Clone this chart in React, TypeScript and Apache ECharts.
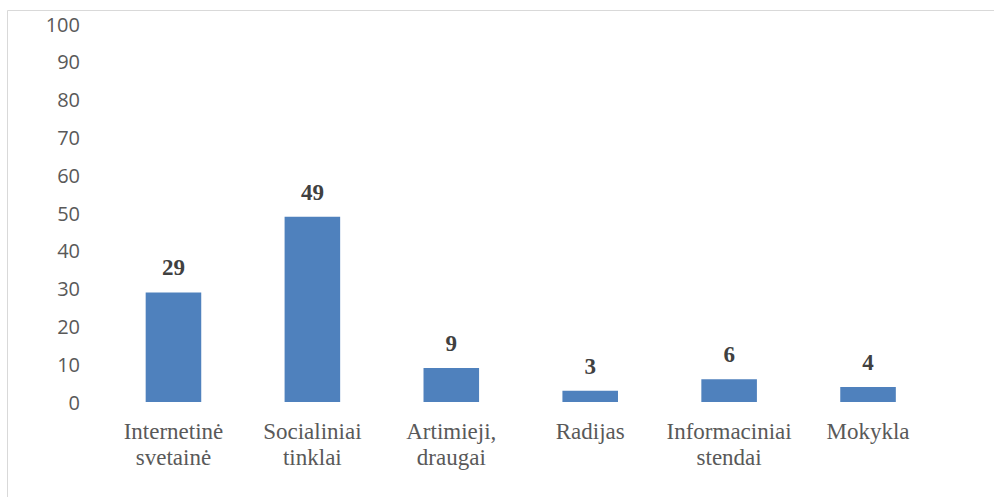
import React, { useEffect, useRef } from "react";
import * as echarts from "echarts";

const categories = ["Internetinė\nsvetainė", "Socialiniai\ntinklai", "Artimieji,\ndraugai", "Radijas", "Informaciniai\nstendai", "Mokykla"];
const values = [29, 49, 9, 3, 6, 4];

export default function App() {
  const ref = useRef<HTMLDivElement>(null);
  useEffect(() => {
    const chart = echarts.init(ref.current!, null, { renderer: "svg" });
    chart.setOption({
      animation: false,
      backgroundColor: "#ffffff",
      graphic: [
        {
          type: "rect",
          shape: { x: 7.5, y: 10.5, width: 1000, height: 500 },
          style: { fill: "none", stroke: "#d9d9d9", lineWidth: 1 },
          silent: true,
        },
      ],
      grid: { left: 104, right: 56.5, top: 24, bottom: 95, containLabel: false },
      xAxis: {
        type: "category",
        data: categories,
        axisLine: { show: false },
        axisTick: { show: false },
        axisLabel: {
          interval: 0,
          margin: 16,
          color: "#595959",
          fontFamily: "'Liberation Serif', 'Times New Roman', serif",
          fontSize: 23,
          lineHeight: 26,
        },
      },
      yAxis: {
        type: "value",
        min: 0,
        max: 100,
        interval: 10,
        splitLine: { show: false },
        axisLine: { show: false },
        axisTick: { show: false },
        axisLabel: {
          margin: 24,
          color: "#595959",
          fontFamily: "'Open Sans', sans-serif",
          fontSize: 20,
        },
      },
      series: [
        {
          type: "bar",
          data: values,
          barWidth: "40%",
          itemStyle: { color: "#4F81BD" },
          label: {
            show: true,
            position: "top",
            distance: 13,
            color: "#404040",
            fontFamily: "'Liberation Serif', 'Times New Roman', serif",
            fontWeight: "bold",
            fontSize: 23,
          },
        },
      ],
    });
    return () => chart.dispose();
  }, []);
  return <div ref={ref} style={{ position: "fixed", left: 0, top: 0, width: 994, height: 497 }} />;
}
